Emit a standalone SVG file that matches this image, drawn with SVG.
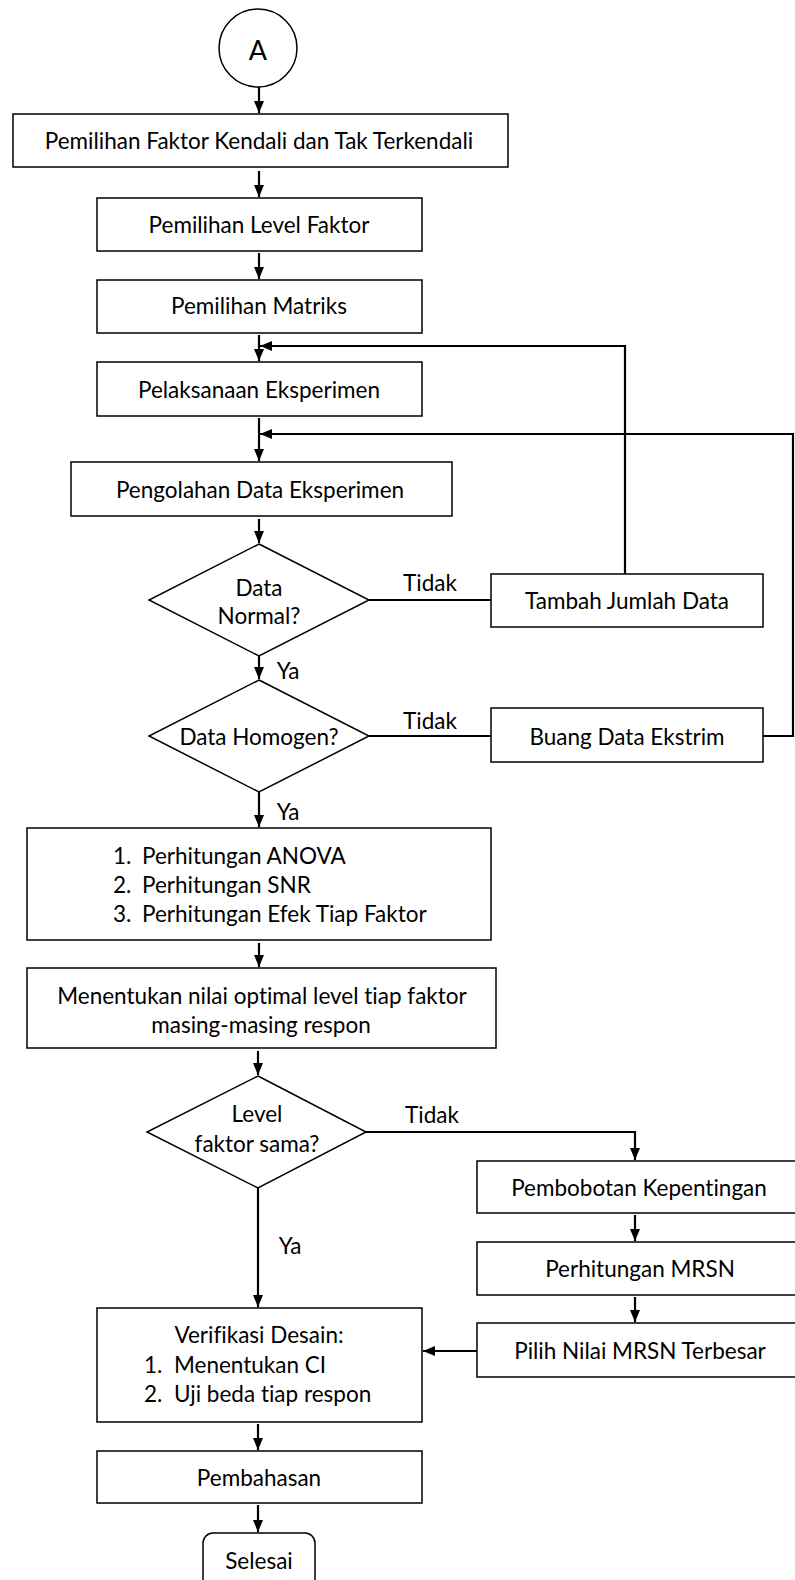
<svg xmlns="http://www.w3.org/2000/svg" width="795" height="1580" viewBox="0 0 795 1580">
<style>
.b{fill:#fff;stroke:#000;stroke-width:1.5}
.c{fill:none;stroke:#000;stroke-width:2.2}
.t{font-family:Lato,"Liberation Sans",sans-serif;font-size:22.5px;fill:#000;text-anchor:middle;dominant-baseline:central;font-variant-ligatures:none;font-feature-settings:"liga" 0}
.l{text-anchor:start}
</style>
<defs>
<marker id="ah" markerUnits="userSpaceOnUse" markerWidth="12" markerHeight="10" refX="12" refY="5" orient="auto">
<path d="M0,0 L12,5 L0,10 z" fill="#000"/>
</marker>
</defs>
<rect width="795" height="1580" fill="#fff"/>
<g id="connectors" class="c">
<path d="M259,87 V113" marker-end="url(#ah)"/>
<path d="M259,171 V197" marker-end="url(#ah)"/>
<path d="M259,253 V279" marker-end="url(#ah)"/>
<path d="M259,335 V361" marker-end="url(#ah)"/>
<path d="M625,574 V346 H260" marker-end="url(#ah)"/>
<path d="M259,418 V461" marker-end="url(#ah)"/>
<path d="M763,736 H793 V434 H260" marker-end="url(#ah)"/>
<path d="M259,519 V543" marker-end="url(#ah)"/>
<path d="M369,600 H491"/>
<path d="M259,656 V679" marker-end="url(#ah)"/>
<path d="M369,736 H491"/>
<path d="M259,792 V827" marker-end="url(#ah)"/>
<path d="M259,943 V967" marker-end="url(#ah)"/>
<path d="M258,1051 V1075" marker-end="url(#ah)"/>
<path d="M366,1132 H635 V1160" marker-end="url(#ah)"/>
<path d="M635,1215 V1241" marker-end="url(#ah)"/>
<path d="M635,1297 V1322" marker-end="url(#ah)"/>
<path d="M258,1188 V1307" marker-end="url(#ah)"/>
<path d="M477,1351 H423" marker-end="url(#ah)"/>
<path d="M258,1424 V1450" marker-end="url(#ah)"/>
<path d="M258,1505 V1532" marker-end="url(#ah)"/>
</g>
<g id="labels">
<text class="t" x="430" y="582">Tidak</text>
<text class="t" x="288" y="670">Ya</text>
<text class="t" x="430" y="720">Tidak</text>
<text class="t" x="288" y="811">Ya</text>
<text class="t" x="432" y="1114">Tidak</text>
<text class="t" x="290" y="1245">Ya</text>
</g>
<g id="start">
<circle class="b" cx="258" cy="48" r="39"/>
<text class="t" x="258" y="49" style="font-size:27px">A</text>
</g>
<g id="n1"><rect class="b" x="13" y="114" width="495" height="53"/><text class="t" x="259" y="140">Pemilihan Faktor Kendali dan Tak Terkendali</text></g>
<g id="n2"><rect class="b" x="97" y="198" width="325" height="53"/><text class="t" x="259" y="224">Pemilihan Level Faktor</text></g>
<g id="n3"><rect class="b" x="97" y="280" width="325" height="53"/><text class="t" x="259" y="305">Pemilihan Matriks</text></g>
<g id="n4"><rect class="b" x="97" y="362" width="325" height="54"/><text class="t" x="259" y="389">Pelaksanaan Eksperimen</text></g>
<g id="n5"><rect class="b" x="71" y="462" width="381" height="54"/><text class="t" x="260" y="489">Pengolahan Data Eksperimen</text></g>
<g id="d1"><polygon class="b" points="259,544 369,600 259,656 149,600"/><text class="t" x="259" y="587">Data</text><text class="t" x="259" y="615">Normal?</text></g>
<g id="n6"><rect class="b" x="491" y="574" width="272" height="53"/><text class="t" x="627" y="600">Tambah Jumlah Data</text></g>
<g id="d2"><polygon class="b" points="259,680 369,736 259,792 149,736"/><text class="t" x="259" y="736">Data Homogen?</text></g>
<g id="n7"><rect class="b" x="491" y="708" width="272" height="54"/><text class="t" x="627" y="736">Buang Data Ekstrim</text></g>
<g id="n8"><rect class="b" x="27" y="828" width="464" height="112"/>
<text class="t l" x="113" y="855">1.</text><text class="t l" x="142" y="855">Perhitungan ANOVA</text>
<text class="t l" x="113" y="884">2.</text><text class="t l" x="142" y="884">Perhitungan SNR</text>
<text class="t l" x="113" y="913">3.</text><text class="t l" x="142" y="913">Perhitungan Efek Tiap Faktor</text></g>
<g id="n9"><rect class="b" x="27" y="968" width="469" height="80"/><text class="t" x="262" y="995">Menentukan nilai optimal level tiap faktor</text><text class="t" x="261" y="1024">masing-masing respon</text></g>
<g id="d3"><polygon class="b" points="258,1076 366,1132 258,1188 147,1132"/><text class="t" x="257" y="1113">Level</text><text class="t" x="257" y="1143">faktor sama?</text></g>
<g id="n10"><rect class="b" x="477" y="1161" width="325" height="52"/><text class="t" x="639" y="1187">Pembobotan Kepentingan</text></g>
<g id="n11"><rect class="b" x="477" y="1242" width="325" height="53"/><text class="t" x="640" y="1268">Perhitungan MRSN</text></g>
<g id="n12"><rect class="b" x="477" y="1323" width="325" height="54"/><text class="t" x="640" y="1350">Pilih Nilai MRSN Terbesar</text></g>
<g id="n13"><rect class="b" x="97" y="1308" width="325" height="114"/>
<text class="t" x="259" y="1334">Verifikasi Desain:</text>
<text class="t l" x="144" y="1364">1.</text><text class="t l" x="174" y="1364">Menentukan CI</text>
<text class="t l" x="144" y="1393">2.</text><text class="t l" x="174" y="1393">Uji beda tiap respon</text></g>
<g id="n14"><rect class="b" x="97" y="1451" width="325" height="52"/><text class="t" x="259" y="1477">Pembahasan</text></g>
<g id="end"><rect class="b" x="203" y="1533" width="112" height="60" rx="10"/><text class="t" x="259" y="1560">Selesai</text></g>
</svg>
